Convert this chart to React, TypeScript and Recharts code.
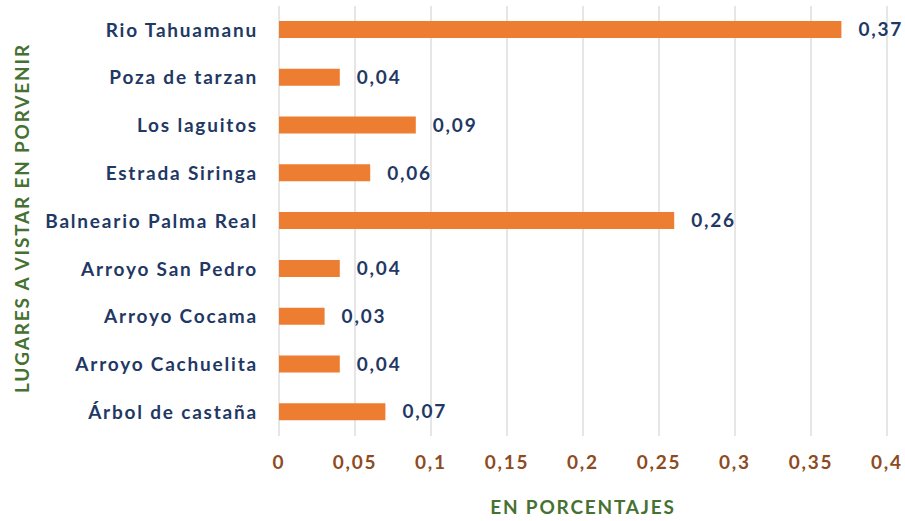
import { Bar, BarChart, CartesianGrid, LabelList, XAxis, YAxis } from "recharts";

const lugares = [
  "Rio Tahuamanu",
  "Poza de tarzan",
  "Los laguitos",
  "Estrada Siringa",
  "Balneario Palma Real",
  "Arroyo San Pedro",
  "Arroyo Cocama",
  "Arroyo Cachuelita",
  "Árbol de castaña",
];

const porcentajes = [0.37, 0.04, 0.09, 0.06, 0.26, 0.04, 0.03, 0.04, 0.07];

const xTicks = [0, 0.05, 0.1, 0.15, 0.2, 0.25, 0.3, 0.35, 0.4];

const data = lugares.map((lugar, i) => ({ lugar, valor: porcentajes[i] }));

const FONT = "Lato, 'Open Sans', sans-serif";
const NAVY = "#1F3864";
const BROWN = "#8E4B1F";
const GREEN = "#467132";
const txt = { fontSize: 19, fontWeight: 700, fontFamily: FONT, letterSpacing: 1.8 };

const comma = (v: number) => String(v).replace(".", ",");

export default function App() {
  return (
    <div style={{ position: "absolute", left: 0, top: 0, background: "#fff" }}>
      <BarChart
        width={905}
        height={521}
        data={data}
        layout="vertical"
        margin={{ top: 6, right: 18, left: 0, bottom: 0 }}
        barCategoryGap={15}
      >
        <CartesianGrid horizontal={false} stroke="#D9D9D9" strokeWidth={1.3} />
        <XAxis
          type="number"
          domain={[0, 0.4]}
          ticks={xTicks}
          tickFormatter={comma}
          axisLine={false}
          tickLine={false}
          tickSize={0}
          tickMargin={20}
          height={85}
          tick={{ fill: BROWN, ...txt }}
          label={{
            content: () => (
              <text x={583} y={514} textAnchor="middle" fill={GREEN} {...txt}>
                EN PORCENTAJES
              </text>
            ),
          }}
        />
        <YAxis
          type="category"
          dataKey="lugar"
          width={279}
          axisLine={false}
          tickLine={false}
          tickSize={0}
          tickMargin={21}
          interval={0}
          tick={{ fill: NAVY, ...txt }}
          label={{
            content: () => (
              <text
                x={0}
                y={0}
                transform="translate(29 218) rotate(-90)"
                textAnchor="middle"
                fill={GREEN}
                {...txt}
              >
                LUGARES A VISTAR EN PORVENIR
              </text>
            ),
          }}
        />
        <Bar dataKey="valor" fill="#ED7D31" barSize={17} isAnimationActive={false}>
          <LabelList
            dataKey="valor"
            position="right"
            offset={17}
            formatter={(v: number) => comma(v)}
            fill={NAVY}
            {...txt}
          />
        </Bar>
      </BarChart>
    </div>
  );
}
